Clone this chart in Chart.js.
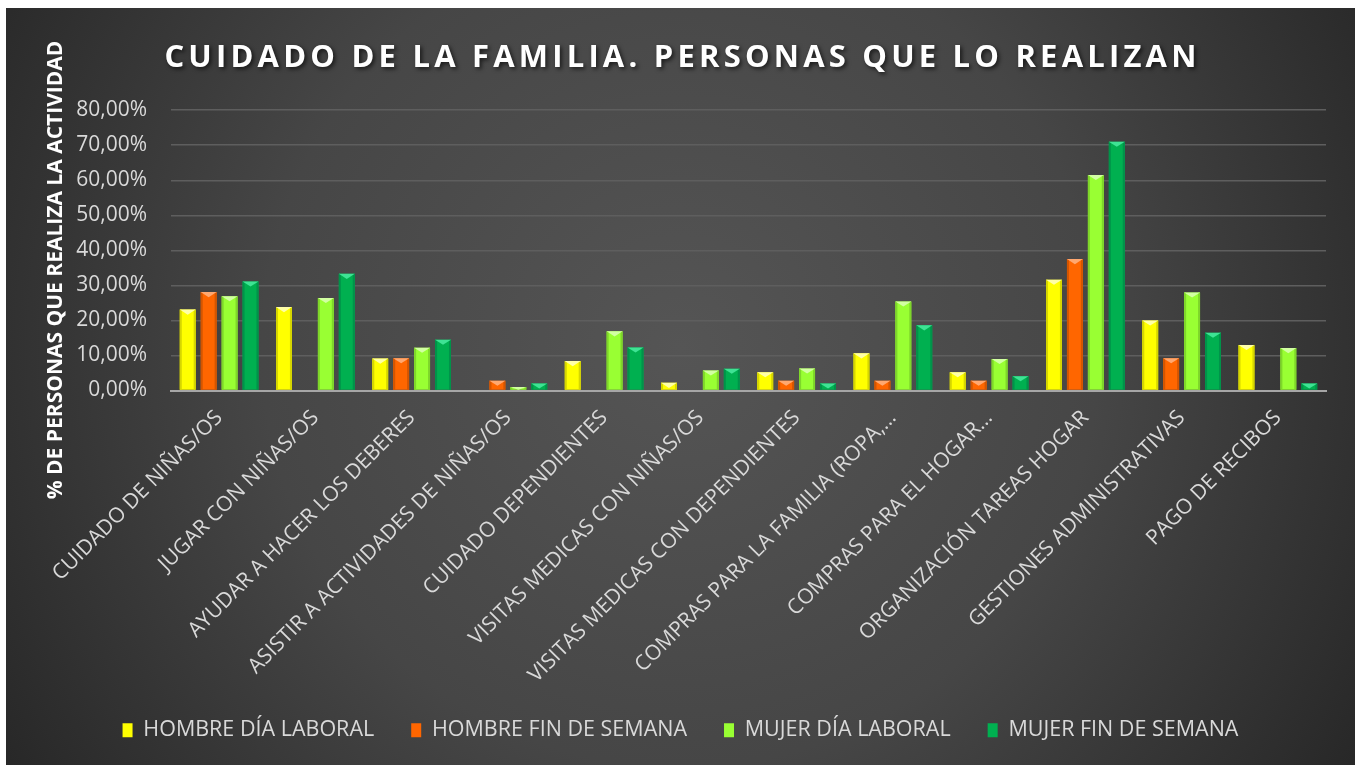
<!DOCTYPE html>
<html>
<head>
<meta charset="utf-8">
<script src="https://cdn.jsdelivr.net/npm/chart.js@4/dist/chart.umd.min.js"></script>
<style>
  html, body { margin: 0; padding: 0; background: #ffffff; }
  #wrap { position: absolute; left: 6px; top: 8px; width: 1349px; height: 757px; }
  canvas { display: block; }
</style>
</head>
<body>
<div id="wrap"><canvas id="c" width="1349" height="757"></canvas></div>
<script>
const chartTitle = 'CUIDADO DE LA FAMILIA. PERSONAS QUE LO REALIZAN';
const yAxisTitle = '% DE PERSONAS QUE REALIZA LA ACTIVIDAD';
const categories = [
  'CUIDADO DE NIÑAS/OS',
  'JUGAR CON NIÑAS/OS',
  'AYUDAR A HACER LOS DEBERES',
  'ASISTIR A ACTIVIDADES DE NIÑAS/OS',
  'CUIDADO DEPENDIENTES',
  'VISITAS MEDICAS CON NIÑAS/OS',
  'VISITAS MEDICAS CON DEPENDIENTES',
  'COMPRAS PARA LA FAMILIA (ROPA,…',
  'COMPRAS PARA EL HOGAR…',
  'ORGANIZACIÓN TAREAS HOGAR',
  'GESTIONES ADMINISTRATIVAS',
  'PAGO DE RECIBOS'
];
const seriesNames = ['HOMBRE DÍA LABORAL', 'HOMBRE FIN DE SEMANA', 'MUJER DÍA LABORAL', 'MUJER FIN DE SEMANA'];
const hombreDiaLaboral   = [23.1, 23.8,  9.1, 0.0,  8.4, 2.2, 5.2, 10.6, 5.2, 31.6, 20.0, 13.0];
const hombreFinDeSemana  = [28.1,  0.0,  9.2, 2.8,  0.0, 0.0, 2.8,  2.8, 2.8, 37.5,  9.2,  0.0];
const mujerDiaLaboral    = [26.9, 26.4, 12.2, 1.0, 16.9, 5.7, 6.3, 25.4, 9.0, 61.5, 28.0, 12.1];
const mujerFinDeSemana   = [31.1, 33.3, 14.5, 2.0, 12.3, 6.2, 2.0, 18.6, 4.1, 71.0, 16.5,  2.0];
const yTickLabels = ['0,00%', '10,00%', '20,00%', '30,00%', '40,00%', '50,00%', '60,00%', '70,00%', '80,00%'];

const palette = [
  { fill: '#FFFF00', light: '#FFFFA8', edge: '#D6D600' },
  { fill: '#FF6600', light: '#FFA870', edge: '#D45500' },
  { fill: '#99FF33', light: '#D2FFA3', edge: '#7ED62A' },
  { fill: '#00B050', light: '#3EE394', edge: '#00934A' }
];

const FONT = "'Open Sans', 'DejaVu Sans', sans-serif";

const bgPlugin = {
  id: 'bg',
  beforeDraw(chart) {
    const { ctx, width, height } = chart;
    ctx.save();
    const g = ctx.createRadialGradient(width * 0.5, height * 0.45, 0, width * 0.5, height * 0.45, width * 0.62);
    g.addColorStop(0, '#555555');
    g.addColorStop(0.5, '#464646');
    g.addColorStop(1, '#242424');
    ctx.fillStyle = g;
    ctx.fillRect(0, 0, width, height);
    ctx.restore();
    // letter-spaced, shadowed main title
    const tb = chart.titleBlock;
    if (tb && !tb._spaced) {
      const orig = tb.draw.bind(tb);
      tb.draw = function () {
        const c = chart.ctx;
        c.save();
        c.letterSpacing = '4.2px';
        c.shadowColor = 'rgba(0,0,0,0.65)';
        c.shadowBlur = 4;
        c.shadowOffsetX = 2;
        c.shadowOffsetY = 2;
        c.translate(2, 0);
        orig();
        c.restore();
      };
      tb._spaced = true;
    }
  }
};

const bevelPlugin = {
  id: 'bevel',
  afterDatasetsDraw(chart) {
    const ctx = chart.ctx;
    chart.data.datasets.forEach((ds, di) => {
      const meta = chart.getDatasetMeta(di);
      const col = palette[di];
      meta.data.forEach(bar => {
        const h = bar.base - bar.y;
        if (h < 1) return;
        const l = bar.x - bar.width / 2, r = bar.x + bar.width / 2;
        ctx.save();
        ctx.fillStyle = col.edge;
        ctx.fillRect(l, bar.y, 2, h);
        ctx.fillRect(r - 2, bar.y, 2, h);
        const th = Math.min(bar.width * 0.32, h);
        ctx.fillStyle = col.light;
        ctx.beginPath();
        ctx.moveTo(l, bar.y);
        ctx.lineTo(r, bar.y);
        ctx.lineTo(bar.x, bar.y + th);
        ctx.closePath();
        ctx.fill();
        ctx.restore();
      });
    });
  }
};

const yTitlePlugin = {
  id: 'ytitle',
  afterDraw(chart) {
    const ctx = chart.ctx;
    ctx.save();
    ctx.translate(50, 262);
    ctx.rotate(-Math.PI / 2);
    ctx.font = "bold 21px " + FONT;
    ctx.fillStyle = '#ffffff';
    ctx.textAlign = 'center';
    ctx.textBaseline = 'middle';
    ctx.fillText(yAxisTitle, 0, 0);
    ctx.restore();
  }
};

const allSeries = [hombreDiaLaboral, hombreFinDeSemana, mujerDiaLaboral, mujerFinDeSemana];

new Chart(document.getElementById('c'), {
  type: 'bar',
  data: {
    labels: categories,
    datasets: allSeries.map((vals, i) => ({
      label: seriesNames[i],
      data: vals,
      backgroundColor: palette[i].fill,
      borderWidth: 0,
      categoryPercentage: 0.87,
      barPercentage: 0.76,
      yAxisID: 'y'
    }))
  },
  options: {
    responsive: false,
    animation: false,
    devicePixelRatio: 1,
    layout: { padding: { left: 0, right: 0, top: 0, bottom: 14 } },
    plugins: {
      title: {
        display: true,
        text: chartTitle,
        color: '#ffffff',
        font: { family: FONT, size: 31, weight: 'bold' },
        padding: { top: 32, bottom: 33 }
      },
      legend: {
        position: 'bottom',
        labels: {
          color: '#d9d9d9',
          font: { family: FONT, size: 21.5 },
          boxWidth: 10,
          boxHeight: 14,
          padding: 37
        }
      },
      tooltip: { enabled: false }
    },
    scales: {
      x: {
        grid: { display: false },
        border: { display: true, color: '#a6a6a6', width: 2 },
        ticks: {
          color: '#d9d9d9',
          font: { family: FONT, size: 21 },
          minRotation: 45,
          maxRotation: 45,
          autoSkip: false,
          padding: 7
        },
        afterFit(scale) { scale.height = 292; }
      },
      y: {
        min: 0,
        max: 80,
        ticks: {
          stepSize: 10,
          color: '#d9d9d9',
          font: { family: FONT, size: 21 },
          padding: 24,
          callback: (v, i) => yTickLabels[i]
        },
        grid: { color: '#5e5e5e', lineWidth: 1.5, drawTicks: false },
        border: { display: false },
        afterFit(scale) { scale.width = 165; }
      },
      rightMargin: {
        position: 'right',
        display: true,
        grid: { display: false, drawTicks: false },
        border: { display: false },
        ticks: { display: false },
        afterFit(scale) { scale.width = 29; }
      }
    }
  },
  plugins: [bgPlugin, bevelPlugin, yTitlePlugin]
});
</script>
</body>
</html>
